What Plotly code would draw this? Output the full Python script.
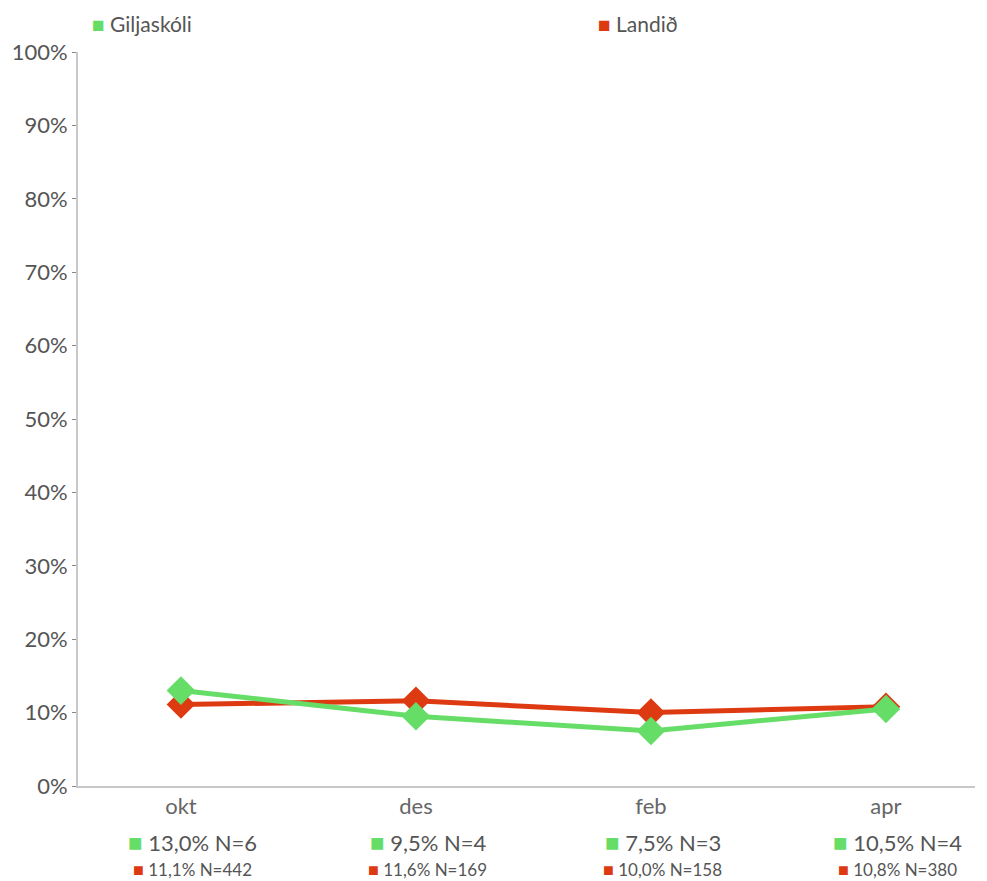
import plotly.graph_objects as go

# Gögn
manudir = ['okt', 'des', 'feb', 'apr']
giljaskoli = [13.0, 9.5, 7.5, 10.5]
giljaskoli_n = [6, 4, 3, 4]
landid = [11.1, 11.6, 10.0, 10.8]
landid_n = [442, 169, 158, 380]
y_ticks = [0, 10, 20, 30, 40, 50, 60, 70, 80, 90, 100]

GREEN = '#66dd66'
RED = '#dd3a12'
TXT = '#555555'
FONT = 'Lato'

# síðan hefur 8px spássíu, svo myndin er 8px minni
W, H = 979, 873
ML, MR, MT, MB = 70, 12, 44, 95
PW = W - ML - MR
PH = H - MT - MB

fig = go.Figure()

fig.add_trace(go.Scatter(
    x=manudir, y=landid, mode='lines+markers', name='Landið',
    line=dict(color=RED, width=5),
    marker=dict(symbol='diamond', size=22, color=RED),
))
fig.add_trace(go.Scatter(
    x=manudir, y=giljaskoli, mode='lines+markers', name='Giljaskóli',
    line=dict(color=GREEN, width=5),
    marker=dict(symbol='diamond', size=22, color=GREEN),
))


def fmt(v):
    return f'{v:.1f}'.replace('.', ',') + '%'


def sq(color, size):
    return f"<span style='color:{color};font-size:{size}px'>■</span>"


annotations = []
for m, g, gn, l, ln in zip(manudir, giljaskoli, giljaskoli_n, landid, landid_n):
    annotations.append(dict(
        x=m, xref='x', y=-0.075, yref='paper', xanchor='center', yanchor='middle',
        xshift=12, showarrow=False,
        text=f"{sq(GREEN, 24)} {fmt(g)} N={gn}",
        font=dict(family=FONT, size=22, color=TXT),
    ))
    annotations.append(dict(
        x=m, xref='x', y=-0.113, yref='paper', xanchor='center', yanchor='middle',
        xshift=12, showarrow=False,
        text=f"{sq(RED, 18)} {fmt(l)} N={ln}",
        font=dict(family=FONT, size=17, color=TXT),
    ))

# Skýringar efst
for label, color, px in [('Giljaskóli', GREEN, 82), ('Landið', RED, 588)]:
    annotations.append(dict(
        x=(px - ML) / PW, xref='paper', y=(PH + MT - 15) / PH, yref='paper',
        xanchor='left', yanchor='middle', showarrow=False,
        text=f"{sq(color, 21)} {label}",
        font=dict(family=FONT, size=21, color=TXT),
    ))

fig.update_layout(
    width=W, height=H,
    margin=dict(l=ML, r=MR, t=MT, b=MB),
    paper_bgcolor='white', plot_bgcolor='white',
    showlegend=False,
    font=dict(family=FONT, size=22, color=TXT),
    annotations=annotations,
    xaxis=dict(
        range=[-0.438, 3.379], showgrid=False, zeroline=False, automargin=False,
        showline=True, linecolor='#c8c8c8', linewidth=2,
        ticks='', tickfont=dict(family=FONT, size=22, color='#666666'),
    ),
    yaxis=dict(
        range=[0, 100], tickvals=y_ticks, automargin=False,
        ticktext=[f'{v}%' for v in y_ticks],
        showgrid=False, zeroline=False,
        showline=True, linecolor='#c8c8c8', linewidth=2,
        ticks='outside', ticklen=4, tickcolor='#888888', tickwidth=1,
        tickfont=dict(family=FONT, size=22, color=TXT),
    ),
)

fig.write_html('out.html')
